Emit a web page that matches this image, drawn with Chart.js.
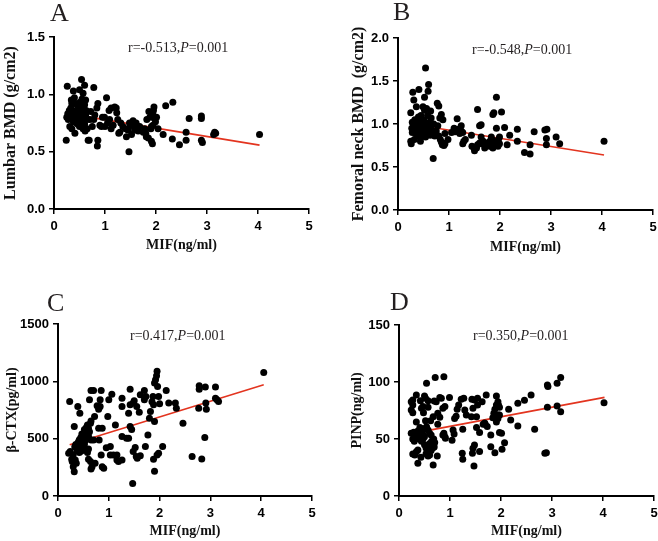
<!DOCTYPE html>
<html><head><meta charset="utf-8">
<script src="https://cdn.jsdelivr.net/npm/chart.js@4/dist/chart.umd.min.js"></script>
<style>
html,body{margin:0;padding:0;background:#fff;width:658px;height:541px;overflow:hidden}
canvas{position:absolute;left:0;top:0}
.lbl{position:absolute;font-family:"Liberation Serif","Times New Roman",serif;color:#231f20;white-space:nowrap;line-height:1}
.letter{font-size:26px}
.ann{font-size:14px}
</style></head><body>
<canvas id="cA" width="658" height="541"></canvas>
<canvas id="cB" width="658" height="541"></canvas>
<canvas id="cC" width="658" height="541"></canvas>
<canvas id="cD" width="658" height="541"></canvas>
<div class="lbl letter" style="left:50px;top:0px">A</div>
<div class="lbl letter" style="left:393px;top:-1px">B</div>
<div class="lbl letter" style="left:47px;top:290px">C</div>
<div class="lbl letter" style="left:390px;top:289px">D</div>
<div class="lbl ann" style="left:128px;top:41px">r=-0.513,<i>P</i>=0.001</div>
<div class="lbl ann" style="left:472px;top:43px">r=-0.548,<i>P</i>=0.001</div>
<div class="lbl ann" style="left:130px;top:329px">r=0.417,<i>P</i>=0.001</div>
<div class="lbl ann" style="left:473px;top:329px">r=0.350,<i>P</i>=0.001</div>
<script>
// ---- data ----
const xTicks = [0, 1, 2, 3, 4, 5];
const xTitle = "MIF(ng/ml)";

// Panel A: Lumbar BMD
const xA = [0.24,0.26,0.54,0.60,0.78,1.03,1.22,2.33,2.19,1.96,2.65,2.89,2.89,2.89,2.91,3.15,3.17,3.13,4.03,2.59,2.59,2.46,2.32,2.14,2.04,1.91,1.93,1.85,1.81,1.75,1.61,1.55,1.48,1.50,1.45,1.47,1.42,1.52,1.58,1.68,1.82,1.88,1.94,1.97,2.01,1.91,1.94,1.86,1.27,1.29,1.16,1.09,1.12,1.08,1.19,0.99,0.90,0.93,0.86,0.85,0.86,0.84,0.65,0.67,0.69,0.41,0.31,0.34,0.50,0.57,
  1.35,1.40,1.57,1.62,1.65,1.78,1.80,1.90,1.99,1.95,1.25,1.31,1.05,1.12,1.23,1.00,0.95,0.78,0.80,0.75,0.72,0.70,
  0.25,0.27,0.28,0.30,0.32,0.33,0.35,0.35,0.36,0.38,0.38,0.40,0.40,0.42,0.42,0.43,0.44,0.45,0.46,0.47,0.48,0.48,0.50,0.50,0.51,0.52,0.52,0.53,0.54,0.55,0.55,0.56,0.57,0.58,0.58,0.59,0.60,0.60,0.62,0.63,0.64,0.62,0.46,0.44,0.36,0.30,0.56,0.61];
const yA = [0.60,1.07,1.13,1.08,1.06,0.97,0.88,0.93,0.90,0.89,0.79,0.81,0.79,0.60,0.58,0.67,0.66,0.65,0.65,0.60,0.67,0.56,0.61,0.65,0.70,0.59,0.57,0.62,0.63,0.67,0.75,0.77,0.75,0.73,0.69,0.50,0.63,0.65,0.69,0.72,0.78,0.80,0.82,0.79,0.80,0.72,0.73,0.85,0.66,0.67,0.73,0.78,0.88,0.86,0.89,0.80,0.73,0.72,0.60,0.55,0.92,0.88,0.70,0.60,0.60,0.66,0.72,0.95,1.04,1.01,
  0.72,0.70,0.72,0.70,0.68,0.70,0.66,0.70,0.76,0.86,0.78,0.75,0.75,0.70,0.84,0.72,0.80,0.78,0.82,0.72,0.85,0.78,
  0.80,0.83,0.78,0.86,0.82,0.88,0.92,0.70,0.80,1.03,0.76,0.83,0.97,0.85,0.78,0.92,0.75,0.83,0.90,0.74,0.80,0.86,0.84,0.72,0.93,0.79,0.87,0.76,0.82,0.76,0.96,0.81,0.70,0.85,0.90,0.78,0.91,0.74,0.82,0.86,0.78,0.95,0.77,0.81,0.86,0.80,0.73,0.68];
const fitXA = [0.24, 4.03];
const fitYA = [0.834, 0.557];

// Panel B: Femoral neck BMD
const xB = [0.54,0.60,0.59,0.52,0.29,0.41,0.31,0.36,0.49,0.56,0.52,0.25,0.64,0.77,0.80,0.85,0.82,0.88,0.65,1.93,2.03,1.86,1.88,1.56,1.63,1.60,1.16,2.09,1.93,2.34,2.67,2.88,2.92,2.91,2.91,3.10,3.17,4.04,2.59,2.59,2.48,2.34,2.19,2.14,0.69,
  0.92,0.98,0.88,0.92,1.05,1.10,1.12,1.18,1.21,1.24,1.27,1.24,1.27,1.29,1.32,1.44,1.45,1.49,1.50,1.54,1.56,1.60,1.63,1.67,1.71,1.76,1.80,1.83,1.86,1.90,1.93,1.96,1.99,1.99,1.97,1.65,1.70,1.80,1.86,
  0.25,0.26,0.27,0.28,0.30,0.31,0.33,0.34,0.35,0.36,0.38,0.39,0.40,0.41,0.42,0.43,0.44,0.45,0.46,0.47,0.48,0.49,0.50,0.51,0.52,0.53,0.54,0.55,0.56,0.57,0.58,0.59,0.60,0.61,0.62,0.63,0.65,0.67,0.70,0.72,0.75,0.78,0.80,0.83,0.85,0.87,0.90,0.28,0.32,0.45];
const yB = [1.65,1.46,1.38,1.31,1.37,1.40,1.28,1.20,1.20,1.18,1.16,1.13,1.15,1.24,1.21,1.11,1.07,1.05,1.07,1.31,1.14,1.11,1.13,1.17,0.99,0.98,1.06,0.96,0.95,0.94,0.91,0.93,0.94,0.83,0.76,0.85,0.77,0.80,0.76,0.65,0.67,0.80,0.87,0.76,0.60,
  0.89,0.82,0.78,0.77,0.90,0.95,0.91,0.94,0.89,0.92,0.90,0.98,0.77,0.80,0.82,0.87,0.74,0.72,0.69,0.72,0.76,0.78,0.85,0.80,0.76,0.78,0.74,0.85,0.72,0.76,0.78,0.74,0.77,0.85,0.82,0.77,0.72,0.80,0.81,
  0.80,0.77,0.95,0.90,1.00,0.97,1.05,0.92,0.98,0.88,1.02,0.95,1.08,0.90,0.99,0.85,0.80,0.94,1.03,0.97,0.88,1.00,0.93,1.05,0.90,0.97,0.85,1.00,0.92,0.96,1.10,0.88,0.99,0.93,1.02,0.87,0.95,0.90,1.00,0.86,0.92,0.98,0.86,0.82,0.79,0.76,0.75,1.02,0.82,1.10];
const fitXB = [0.25, 4.04];
const fitYB = [1.00, 0.64];

// Panel C: beta-CTX
const xC = [4.05,3.10,2.90,2.78,2.78,2.77,2.91,2.92,3.10,3.13,3.16,2.89,2.83,2.64,2.46,2.33,2.31,2.18,2.13,2.06,1.98,1.95,1.88,1.90,1.95,1.94,1.92,1.90,1.96,1.98,1.87,1.88,1.90,1.85,1.82,1.80,1.77,1.70,1.73,1.70,1.62,1.72,1.62,1.56,1.54,1.52,1.47,1.48,1.42,1.48,1.42,1.39,1.42,1.39,1.35,1.26,1.26,1.26,1.26,1.19,1.16,1.16,1.09,1.03,1.13,1.06,1.00,0.98,1.03,0.85,0.83,0.83,0.80,0.77,0.80,0.87,0.81,0.85,0.87,0.90,0.70,0.65,0.72,0.62,0.64,0.65,0.60,0.65,0.70,0.60,0.64,0.67,0.65,0.73,0.39,0.43,0.32,0.23,0.24,0.21,0.28,0.30,0.32,0.34,0.36,
  0.37,0.40,0.42,0.45,0.47,0.50,0.52,0.54,0.56,0.58,0.55,0.57,0.60,0.48,0.45,0.42,0.40,0.38,0.35,0.33,0.30,0.50,0.52,0.55,0.58,0.60,0.62,0.53,0.47,0.27,1.45,1.50,1.55,1.60,0.95,2.00];
const yC = [1078,950,950,961,932,766,810,757,853,839,824,510,323,344,635,766,810,810,920,431,373,358,320,215,1087,1049,1014,985,955,868,868,795,650,821,737,679,533,839,868,920,882,431,352,329,344,422,110,387,932,810,795,722,606,504,504,853,781,518,315,300,315,358,358,358,620,888,839,693,431,920,839,781,757,786,591,591,489,358,256,242,920,920,693,839,635,655,591,489,489,320,300,256,236,285,781,722,606,824,387,373,300,256,212,315,285,
  440,470,490,510,540,510,580,570,600,620,540,560,520,400,390,380,420,400,450,430,360,430,450,400,380,410,560,480,460,320,580,830,780,730,420,805];
const fitXC = [0.23, 4.05];
const fitYC = [446, 970];

// Panel D: PINP
const xD = [4.02,3.17,3.10,3.17,3.10,2.91,2.92,2.91,2.89,2.86,2.66,2.59,2.46,2.33,2.33,2.19,2.15,2.07,2.02,1.97,2.01,1.91,1.94,1.95,1.97,1.91,1.88,1.91,1.94,1.91,1.95,1.97,1.88,1.80,1.80,1.86,1.84,1.71,1.68,1.65,1.69,1.73,1.63,1.58,1.54,1.54,1.52,1.52,1.58,1.43,1.48,1.45,1.42,1.48,1.45,1.44,1.47,1.29,1.32,1.22,1.27,1.25,1.25,1.24,1.17,1.14,1.12,1.09,1.08,1.06,1.04,0.99,0.88,0.90,0.86,0.83,0.80,0.88,0.90,0.86,0.91,0.76,0.80,0.76,0.71,0.69,0.73,0.67,0.67,0.57,0.57,0.52,0.54,0.50,0.54,0.57,0.60,0.63,0.47,0.44,0.42,0.34,0.27,0.27,0.24,0.24,0.27,0.34,0.37,0.31,0.27,0.34,0.37,
  0.24,0.29,0.34,0.37,0.37,0.44,0.41,0.47,0.47,0.50,0.53,0.57,0.60,0.63,0.53,0.57,0.60,0.63,0.66,0.69,0.68,0.64,0.70,0.50,0.47,0.44,0.40,0.30,0.27,0.75,0.43,0.52,0.62,0.48];
const yD = [81.9,104,98.8,74,79,97.4,96,77.8,38,37.4,58.5,88.6,84,81.3,61.4,66.7,76,46.8,40.9,55.6,55,87.7,82.7,79.8,77.8,79.8,76,69.6,68,65,71,71,38,43.3,53.5,72.5,68.7,88.6,64,63,63,61,82.7,39,85.7,79.8,69.6,60,55.6,84.8,84.2,76.9,69.6,44.7,41.8,37.4,26.3,75.4,71,84.8,85.7,58.5,32.2,37.4,79.8,76,70,68,54.4,57.9,49,86.5,104.7,78.4,76.9,85.7,86.3,55,52,53.5,50.6,72.5,69,63,104,83.3,82.7,69.6,27.2,77.8,83.6,85.7,98.8,87.7,60.8,57.9,55,53.5,78.4,77,83.6,88.6,84.2,79.8,82.7,75.4,73,65,28.7,36,36.8,38.9,40.3,
  55,56,54,52,57,56,60,59,50,45,42,38,36,40,37,35,46,44,42,43,50,48,47,52,54,48,50,48,50,35,34,66,66,73];
const fitXD = [0.37, 4.03];
const fitYD = [55.8, 86.5];

// ---- layout (pixels) ----
const W = 658, H = 541;
const panels = [
  {id:'cA', xs:xA, ys:yA, fx:fitXA, fy:fitYA, yTitle:'Lumbar BMD (g/cm2)', yTitleSize:16, yMax:1.5, yStep:0.5, dec:1, L:54, T:37, R:309, B:209, tl:1, xb:254},
  {id:'cB', xs:xB, ys:yB, fx:fitXB, fy:fitYB, yTitle:'Femoral neck BMD  (g/cm2)', yTitleSize:16, yMax:2.0, yStep:0.5, dec:1, L:398, T:38, R:653, B:210, tl:349, xb:256},
  {id:'cC', xs:xC, ys:yC, fx:fitXC, fy:fitYC, yTitle:'\u03B2-CTX(pg/ml)', yTitleSize:14, yMax:1500, yStep:500, dec:0, L:58, T:324, R:312, B:496, tl:4, xb:540},
  {id:'cD', xs:xD, ys:yD, fx:fitXD, fy:fitYD, yTitle:'PINP(ng/ml)', yTitleSize:14, yMax:150, yStep:50, dec:0, L:399, T:325, R:654, B:496, tl:349, xb:540}
];

const tickFont = {family:'"Liberation Sans", Arial, sans-serif', weight:'bold', size:13};
const serif = '"Liberation Serif", "Times New Roman", serif';

panels.forEach(p => {
  const pts = p.xs.map((x, i) => ({x: x, y: p.ys[i]}));
  const fit = p.fx.map((x, i) => ({x: x, y: p.fy[i]}));
  new Chart(document.getElementById(p.id), {
    type: 'scatter',
    data: {
      datasets: [
        {type:'scatter', data: pts, backgroundColor:'#000', borderColor:'#000', borderWidth:0, pointRadius:3.5, order:1},
        {type:'line', data: fit, borderColor:'#e3341f', borderWidth:1.6, pointRadius:0, fill:false, showLine:true, order:2}
      ]
    },
    options: {
      responsive:false, animation:false, devicePixelRatio:1,
      layout:{padding:{left:p.tl, top:p.T, right:W - p.R, bottom:H - p.xb}},
      plugins:{legend:{display:false}, tooltip:{enabled:false}},
      scales:{
        x:{
          type:'linear', min:0, max:5,
          afterBuildTicks: s => { s.ticks = xTicks.map(v => ({value:v})); },
          afterFit: s => { s.height = p.xb - p.B; s.paddingLeft = 0; s.paddingRight = 0; },
          grid:{display:true, drawOnChartArea:false, drawTicks:true, tickLength:5, color:'#000', lineWidth:1.5},
          border:{display:true, color:'#000', width:2},
          ticks:{font:tickFont, color:'#000', padding:5, maxRotation:0, callback: v => String(v)},
          title:{display:true, text:xTitle, color:'#111', font:{family:serif, weight:'bold', size:14}, padding:0}
        },
        y:{
          type:'linear', min:0, max:p.yMax,
          ticks:{stepSize:p.yStep, font:tickFont, color:'#000', padding:4, callback: v => Number(v).toFixed(p.dec)},
          afterFit: s => { s.width = p.L - p.tl; s.paddingTop = 0; s.paddingBottom = 0; },
          grid:{display:true, drawOnChartArea:false, drawTicks:true, tickLength:5, color:'#000', lineWidth:1.5},
          border:{display:true, color:'#000', width:2},
          title:{display:true, text:p.yTitle, color:'#111', font:{family:serif, weight:'bold', size:p.yTitleSize}, padding:0}
        }
      }
    }
  });
});
</script>
</body></html>
